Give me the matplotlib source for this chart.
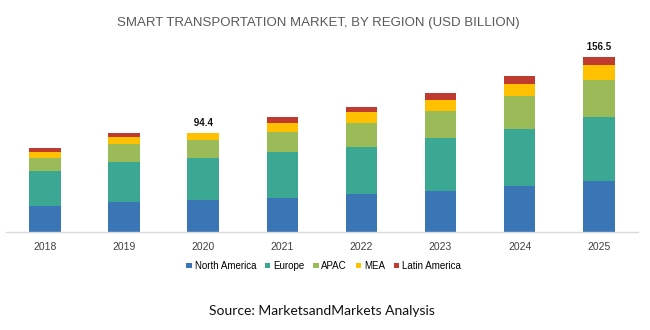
import matplotlib.pyplot as plt
import numpy as np
from matplotlib.patches import Patch

years = ['2018', '2019', '2020', '2021', '2022', '2023', '2024', '2025']
regions = ['North America', 'Europe', 'APAC', 'MEA', 'Latin America']
north_america = [23.4, 27.3, 29.1, 30.8, 33.9, 37.1, 41.0, 45.5]
europe = [31.5, 35.6, 36.9, 40.5, 42.4, 46.7, 50.8, 57.0]
apac = [11.6, 15.5, 16.5, 17.8, 21.4, 24.0, 29.4, 33.5]
mea = [5.1, 6.5, 6.6, 8.3, 9.3, 10.4, 11.2, 13.1]
latin_america = [3.3, 3.6, 5.3, 5.4, 4.9, 6.2, 6.6, 7.4]
totals = {'2020': 94.4, '2025': 156.5}

colors = ['#3a75b6', '#3aa892', '#9bbb59', '#ffc000', '#bf3b2f']

fig = plt.figure(figsize=(6.5, 3.3), dpi=100)
ax = fig.add_axes([0.0085, 0.296, 0.9735, 0.578])

x = np.arange(len(years))
bottom = np.zeros(len(years))
for vals, col in zip([north_america, europe, apac, mea, latin_america], colors):
    ax.bar(x, vals, 0.4, bottom=bottom, color=col, linewidth=0)
    bottom += np.array(vals)

# value boxes; the 2020 box sits low enough to cover the bar top
offsets = {'2020': 2.7, '2025': 9}
for yr, total in totals.items():
    i = years.index(yr)
    ax.text(i, total + offsets[yr], f' {total} ', ha='center', va='center', fontsize=7,
            fontweight='bold', color='#111111', family='Liberation Sans',
            bbox=dict(facecolor='white', edgecolor='none', pad=3.2), zorder=5)

ax.set_xlim(-0.5, len(years) - 0.5)
ax.set_ylim(0, 170)
ax.set_xticks(x)
ax.set_xticklabels(years, fontsize=7.5, color='#404040', family='Liberation Sans')
ax.tick_params(axis='x', length=0, pad=7)
ax.set_yticks([])
for s in ['top', 'left', 'right']:
    ax.spines[s].set_visible(False)
ax.spines['bottom'].set_color('#d9d9d9')
ax.spines['bottom'].set_linewidth(1)

fig.text(0.49, 0.93, 'SMART TRANSPORTATION MARKET, BY REGION (USD BILLION)',
         ha='center', va='center', fontsize=9.5, color='#595959',
         family='Liberation Sans')

handles = [Patch(facecolor=c, edgecolor='none') for c in colors]
fig.legend(handles, regions, loc='center', bbox_to_anchor=(0.498, 0.194), ncol=5,
           frameon=False, handlelength=0.55, handleheight=0.55,
           handletextpad=0.3, columnspacing=0.9,
           prop={'family': 'Liberation Sans', 'size': 7})

fig.text(0.495, 0.058, 'Source: MarketsandMarkets Analysis', ha='center', va='center',
         fontsize=10, color='#111111', family='Lato')

fig.savefig('out.png', dpi=100)
